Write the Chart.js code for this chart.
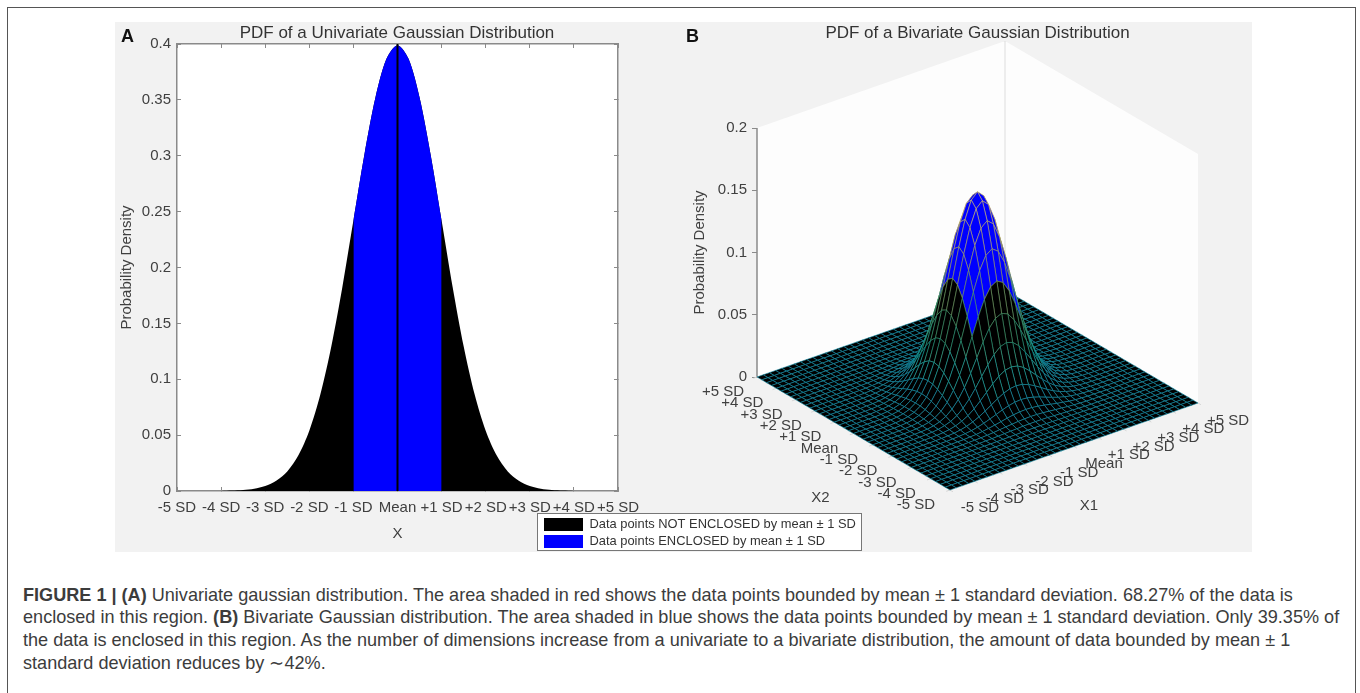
<!DOCTYPE html>
<html>
<head>
<meta charset="utf-8">
<title>PDF gaussiana</title>
<script src="https://cdn.jsdelivr.net/npm/chart.js@4"></script>
<style>
    body { margin: 0; background: #fff; overflow: hidden; width: 1360px; height: 693px; position: relative; font-family: "Liberation Sans", sans-serif; }
    #moldura { position: absolute; left: 7px; top: 7px; width: 1347px; height: 700px; border: 1.5px solid #555; }
    #painel { position: absolute; left: 115px; top: 22px; width: 1137px; height: 530px; background: #f2f2f2; }
    canvas { position: absolute; filter: blur(0.4px); }
    #graficoA { left: 115px; top: 22px; }
    #graficoB { left: 680px; top: 22px; }
    #legenda { left: 538px; top: 514px; background: #fff; outline: 1px solid #777; }
    .linha { position: absolute; left: 23px; white-space: nowrap; font-size: 18.1px; color: #3c3c3c; }
</style>
</head>
<body>
<div id="moldura"></div>
<div id="painel"></div>
<canvas id="graficoA" width="564" height="530"></canvas>
<canvas id="graficoB" width="595" height="543"></canvas>
<canvas id="legenda" width="323" height="36"></canvas>
<div class="linha" style="top:585px"><b>FIGURE 1 | (A)</b> Univariate gaussian distribution. The area shaded in red shows the data points bounded by mean ± 1 standard deviation. 68.27% of the data is</div>
<div class="linha" style="top:607px">enclosed in this region. <b>(B)</b> Bivariate Gaussian distribution. The area shaded in blue shows the data points bounded by mean ± 1 standard deviation. Only 39.35% of</div>
<div class="linha" style="top:630px">the data is enclosed in this region. As the number of dimensions increase from a univariate to a bivariate distribution, the amount of data bounded by mean ± 1</div>
<div class="linha" style="top:652px">standard deviation reduces by ∼42%.</div>
<script>
const rotulosSD = ['-5 SD', '-4 SD', '-3 SD', '-2 SD', '-1 SD', 'Mean', '+1 SD', '+2 SD', '+3 SD', '+4 SD', '+5 SD'];
const ticksDensidadeA = [0, 0.05, 0.1, 0.15, 0.2, 0.25, 0.3, 0.35, 0.4];
const ticksDensidadeB = [0, 0.05, 0.1, 0.15, 0.2];
const textosLegenda = ['Data points NOT ENCLOSED by mean ± 1 SD', 'Data points ENCLOSED by mean ± 1 SD'];

const posicoesX = [
    -5, -4.75, -4.5, -4.25, -4, -3.75, -3.5, -3.25, -3, -2.75, -2.5, -2.25, -2, -1.75, -1.5, -1.25, -1, -0.75, -0.5, -0.25,
    0, 0.25, 0.5, 0.75, 1, 1.25, 1.5, 1.75, 2, 2.25, 2.5, 2.75, 3, 3.25, 3.5, 3.75, 4, 4.25, 4.5, 4.75, 5
];
const densidadeX = [
    0, 0, 0, 0, 0.0001, 0.0004, 0.0009, 0.002, 0.0044, 0.0091, 0.0175, 0.0317, 0.054, 0.0863, 0.1295, 0.1826, 0.242, 0.3011, 0.3521, 0.3867,
    0.3989, 0.3867, 0.3521, 0.3011, 0.242, 0.1826, 0.1295, 0.0863, 0.054, 0.0317, 0.0175, 0.0091, 0.0044, 0.002, 0.0009, 0.0004, 0.0001, 0, 0, 0, 0
];

// superficie bivariada: um quadrante, do centro para fora, de 0.25 em 0.25 SD
const alturasQuadrante = [
    [.1592, .1543, .1405, .1202, .0966, .0729, .0517, .0344, .0215, .0127, .0070, .0036, .0018, .0008, .0004],
    [.1543, .1495, .1362, .1165, .0936, .0706, .0501, .0334, .0209, .0123, .0068, .0035, .0017, .0008, .0003],
    [.1405, .1362, .1240, .1060, .0852, .0643, .0456, .0304, .0190, .0112, .0062, .0032, .0016, .0007, .0003],
    [.1202, .1165, .1060, .0907, .0729, .0550, .0390, .0260, .0163, .0096, .0053, .0027, .0013, .0006, .0003],
    [.0966, .0936, .0852, .0729, .0586, .0442, .0314, .0209, .0131, .0077, .0042, .0022, .0011, .0005, .0002],
    [.0729, .0706, .0643, .0550, .0442, .0334, .0237, .0158, .0099, .0058, .0032, .0017, .0008, .0004, .0002],
    [.0517, .0501, .0456, .0390, .0314, .0237, .0168, .0112, .0070, .0041, .0023, .0012, .0006, .0003, .0001],
    [.0344, .0334, .0304, .0260, .0209, .0158, .0112, .0074, .0047, .0027, .0015, .0008, .0004, .0002, .0001],
    [.0215, .0209, .0190, .0163, .0131, .0099, .0070, .0047, .0029, .0017, .0009, .0005, .0002, .0001, 0],
    [.0127, .0123, .0112, .0096, .0077, .0058, .0041, .0027, .0017, .0010, .0006, .0003, .0001, .0001, 0],
    [.0070, .0068, .0062, .0053, .0042, .0032, .0023, .0015, .0009, .0006, .0003, .0002, .0001, 0, 0],
    [.0036, .0035, .0032, .0027, .0022, .0017, .0012, .0008, .0005, .0003, .0002, .0001, 0, 0, 0],
    [.0018, .0017, .0016, .0013, .0011, .0008, .0006, .0004, .0002, .0001, .0001, 0, 0, 0, 0],
    [.0008, .0008, .0007, .0006, .0005, .0004, .0003, .0002, .0001, .0001, 0, 0, 0, 0, 0],
    [.0004, .0003, .0003, .0003, .0002, .0002, .0001, .0001, 0, 0, 0, 0, 0, 0, 0]
];

const coresMalha = ['#0e8ca4', '#16a09c', '#2e9c80', '#449c70', '#74a068', '#a0a460', '#bcb064', '#d0bc6c'];
const corTexto = '#404040';
const corEixo = '#8a8a8a';

Chart.defaults.font.family = '"Liberation Sans", sans-serif';
Chart.defaults.color = corTexto;
Chart.defaults.animation = false;
Chart.defaults.plugins.tooltip.enabled = false;

function pontosDe(filtro) {
    return posicoesX
        .map((x, i) => ({ x: x, y: densidadeX[i] }))
        .filter(p => filtro(p.x));
}

// fundo branco da area do grafico e a letra do painel
const pluginPainel = {
    id: 'painel',
    beforeDraw(chart, args, opts) {
        const { ctx, chartArea: a } = chart;
        if (opts.fundo) {
            ctx.fillStyle = opts.fundo;
            ctx.fillRect(a.left, a.top, a.right - a.left, a.bottom - a.top);
        }
    },
    afterDraw(chart, args, opts) {
        const ctx = chart.ctx;
        ctx.save();
        ctx.fillStyle = '#111';
        ctx.font = 'bold 18px "Liberation Sans"';
        ctx.textBaseline = 'middle';
        ctx.fillText(opts.letra, opts.xLetra, 15);
        ctx.restore();
    }
};

new Chart(document.getElementById('graficoA'), {
    type: 'scatter',
    data: {
        datasets: [
            {
                data: [{ x: 0, y: 0 }, { x: 0, y: 0.4 }],
                showLine: true, borderColor: '#000', borderWidth: 2, pointRadius: 0
            },
            {
                data: pontosDe(x => x >= -1 && x <= 1),
                showLine: true, borderWidth: 0, pointRadius: 0, tension: 0.3,
                backgroundColor: '#0000ff', fill: 'origin'
            },
            {
                data: pontosDe(() => true),
                showLine: true, borderWidth: 0, pointRadius: 0, tension: 0.3,
                backgroundColor: '#000', fill: 'origin'
            }
        ]
    },
    options: {
        responsive: false,
        layout: { autoPadding: false },
        plugins: {
            legend: { display: false },
            title: {
                display: true,
                text: 'PDF of a Univariate Gaussian Distribution',
                font: { size: 17, weight: 'normal', lineHeight: 1 },
                color: '#333',
                padding: { top: 3, bottom: 2 }
            },
            painel: { fundo: '#fff', letra: 'A', xLetra: 6 }
        },
        scales: {
            x: {
                type: 'linear', min: -5, max: 5,
                border: { color: corEixo, width: 1.5 },
                grid: { drawOnChartArea: false, tickLength: -4, color: corEixo },
                ticks: {
                    stepSize: 1, autoSkip: false, maxRotation: 0, padding: 12,
                    font: { size: 15 },
                    callback: (v, i) => rotulosSD[i]
                },
                title: { display: true, text: 'X', font: { size: 15 }, padding: { bottom: 9 } },
                afterFit(s) { s.height = 61; }
            },
            y: {
                min: 0, max: 0.4,
                border: { color: corEixo, width: 1.5 },
                grid: { drawOnChartArea: false, tickLength: -4, color: corEixo },
                afterBuildTicks(s) { s.ticks = ticksDensidadeA.map(v => ({ value: v })); },
                ticks: { padding: 10, font: { size: 15 }, callback: v => String(v) },
                title: { display: true, text: 'Probability Density', font: { size: 15 }, padding: { top: 3 } },
                afterFit(s) { s.width = 62; }
            },
            xTopo: {
                type: 'linear', position: 'top', min: -5, max: 5,
                border: { color: corEixo, width: 1.5 },
                grid: { drawOnChartArea: false, tickLength: -4, color: corEixo },
                ticks: { stepSize: 1, display: false },
                afterFit(s) { s.height = 0; }
            },
            yDireita: {
                type: 'linear', position: 'right', min: 0, max: 0.4,
                border: { color: corEixo, width: 1.5 },
                grid: { drawOnChartArea: false, tickLength: -4, color: corEixo },
                ticks: { stepSize: 0.05, display: false },
                afterFit(s) { s.width = 61; }
            }
        }
    },
    plugins: [pluginPainel]
});

// --- painel B: a superficie e projetada sobre as escalas x e y do grafico ---
const pxPorDensidade = 249 / 0.2;
const sobeNoCantoEsquerdo = 8.7 * -5 + 11.3 * 5;
const limiteInferiorZ = -0.13976;
const limiteSuperiorZ = 0.26908;

function projetar(x1, x2, z) {
    return {
        x: 24.8 * x1 - 19.3 * x2,
        y: z + (8.7 * x1 + 11.3 * x2 - sobeNoCantoEsquerdo) / pxPorDensidade
    };
}

function alturaEm(i, j) {
    const a = Math.abs(i - 20), b = Math.abs(j - 20);
    return (a < 15 && b < 15) ? alturasQuadrante[a][b] : 0;
}

function celulasSuperficie() {
    const celulas = [];
    // a primeira na lista fica por cima: comeca pelo canto da frente (-5,-5)
    for (let i = 0; i < 40; i++) {
        for (let j = 0; j < 40; j++) {
            const cantos = [[i, j], [i + 1, j], [i + 1, j + 1], [i, j + 1], [i, j]];
            const pontos = cantos.map(c => projetar((c[0] - 20) / 4, (c[1] - 20) / 4, alturaEm(c[0], c[1])));
            const media = (alturaEm(i, j) + alturaEm(i + 1, j) + alturaEm(i + 1, j + 1) + alturaEm(i, j + 1)) / 4;
            const dentro = i >= 16 && i < 24 && j >= 16 && j < 24;
            const indiceCor = Math.min(coresMalha.length - 1, Math.floor(media / 0.15 * coresMalha.length));
            celulas.push({
                data: pontos,
                showLine: true, pointRadius: 0, tension: 0,
                borderWidth: 0.6,
                borderColor: coresMalha[indiceCor],
                backgroundColor: dentro ? '#0000ff' : '#000',
                fill: 'shape',
                clip: false
            });
        }
    }
    return celulas;
}

function paredes() {
    const parede = (a, b) => ({
        data: [projetar(a[0], a[1], 0), projetar(a[0], a[1], 0.2), projetar(b[0], b[1], 0.2), projetar(b[0], b[1], 0), projetar(a[0], a[1], 0)],
        showLine: true, pointRadius: 0, borderWidth: 0, backgroundColor: '#fdfdfd', fill: 'shape', clip: false
    });
    const canto = {
        data: [projetar(5, 5, 0), projetar(5, 5, 0.2)],
        showLine: true, pointRadius: 0, borderWidth: 1, borderColor: '#dddddd', clip: false
    };
    const eixoZ = {
        data: [projetar(-5, 5, 0), projetar(-5, 5, 0.2)],
        showLine: true, pointRadius: 0, borderWidth: 1.5, borderColor: corEixo, clip: false
    };
    return [eixoZ, canto, parede([-5, 5], [5, 5]), parede([5, 5], [5, -5])];
}

// tracinhos claros nas duas bordas da base
function marcasBase() {
    const marcas = [];
    rotulosSD.forEach((texto, i) => {
        [[[-5, i - 5], [-5.15, i - 5]], [[i - 5, -5], [i - 5, -5.15]]].forEach(par => {
            marcas.push({
                data: par.map(p => projetar(p[0], p[1], 0)),
                showLine: true, pointRadius: 0, borderWidth: 1, borderColor: '#d4d4d4', clip: false
            });
        });
    });
    return marcas;
}

const pluginRotulos3D = {
    id: 'rotulos3D',
    afterDraw(chart) {
        const { ctx, scales } = chart;
        const escrever = (texto, p, dx, dy) => {
            ctx.fillText(texto, scales.x.getPixelForValue(p.x) + dx, scales.y.getPixelForValue(p.y) + dy);
        };
        ctx.save();
        ctx.fillStyle = corTexto;
        ctx.font = '15px "Liberation Sans"';
        ctx.textAlign = 'center';
        ctx.textBaseline = 'middle';
        rotulosSD.forEach((texto, i) => {
            escrever(texto, projetar(-5, i - 5, 0), -34, 15);
            escrever(texto, projetar(i - 5, -5, 0), 30, 17.5);
        });
        escrever('X2', projetar(-5, 0, 0), -33, 64);
        escrever('X1', projetar(0, -5, 0), 15, 59);
        // titulo do eixo z, centrado no trecho de 0 a 0.2
        ctx.translate(20, scales.y.getPixelForValue(0.1));
        ctx.rotate(-Math.PI / 2);
        ctx.fillText('Probability Density', 0, 0);
        ctx.restore();
    }
};

new Chart(document.getElementById('graficoB'), {
    type: 'scatter',
    data: { datasets: celulasSuperficie().concat(marcasBase(), paredes()) },
    options: {
        responsive: false,
        layout: { autoPadding: false, padding: { bottom: 1 } },
        plugins: {
            legend: { display: false },
            title: {
                display: true,
                text: 'PDF of a Bivariate Gaussian Distribution',
                font: { size: 17, weight: 'normal', lineHeight: 1 },
                color: '#333',
                padding: { top: 3, bottom: 0 }
            },
            painel: { letra: 'B', xLetra: 6 }
        },
        scales: {
            x: { type: 'linear', display: false, min: -220.5, max: 220.5 },
            y: {
                min: limiteInferiorZ, max: limiteSuperiorZ,
                border: { display: false },
                grid: { drawOnChartArea: false, tickLength: 5, color: corEixo },
                afterBuildTicks(s) { s.ticks = ticksDensidadeB.map(v => ({ value: v })); },
                ticks: { padding: 5, font: { size: 15 }, callback: v => String(v) },
                afterFit(s) { s.width = 77; }
            },
            yDireita: {
                type: 'linear', position: 'right', min: 0, max: 1,
                border: { display: false },
                grid: { display: false },
                ticks: { display: false },
                afterFit(s) { s.width = 77; }
            }
        }
    },
    plugins: [pluginPainel, pluginRotulos3D]
});

// legenda da figura, um grafico so com a caixa de legenda
new Chart(document.getElementById('legenda'), {
    type: 'bar',
    data: {
        labels: [],
        datasets: [
            { label: textosLegenda[0], data: [], backgroundColor: '#000', borderWidth: 0 },
            { label: textosLegenda[1], data: [], backgroundColor: '#0000ff', borderWidth: 0 }
        ]
    },
    options: {
        responsive: false,
        layout: { padding: { left: 2, top: 0 } },
        scales: { x: { display: false }, y: { display: false } },
        plugins: {
            legend: {
                position: 'top',
                align: 'start',
                maxHeight: 36,
                labels: { boxWidth: 39, boxHeight: 13, padding: 4, color: '#333', font: { size: 12.9 } }
            }
        }
    }
});
</script>
</body>
</html>
